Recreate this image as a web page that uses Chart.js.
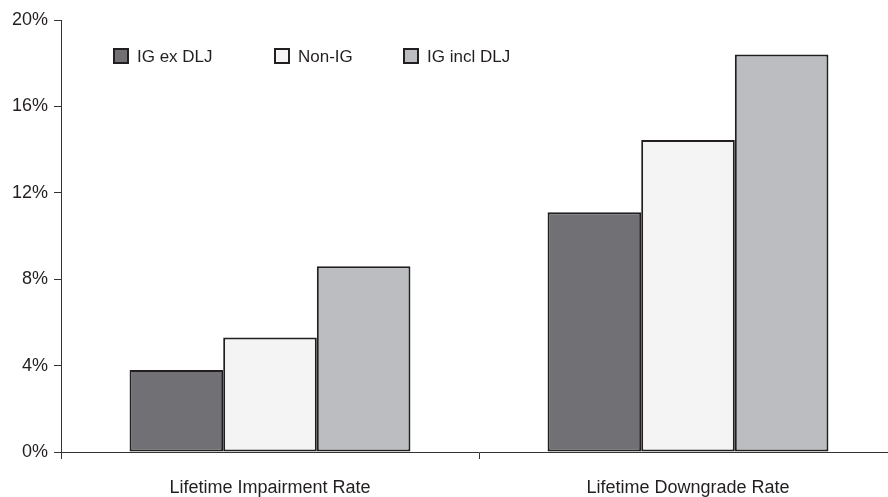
<!DOCTYPE html>
<html>
<head>
<meta charset="utf-8">
<script src="https://cdn.jsdelivr.net/npm/chart.js@4/dist/chart.umd.min.js"></script>
<style>
  html, body { margin: 0; padding: 0; background: #fff; overflow: hidden; }
  #wrap { width: 900px; height: 497px; }
</style>
</head>
<body>
<div id="wrap"><canvas id="c" width="900" height="497"></canvas></div>
<script>
const categories = ['Lifetime Impairment Rate', 'Lifetime Downgrade Rate'];
const seriesNames = ['IG ex DLJ', 'Non-IG', 'IG incl DLJ'];
const igExDlj = [3.8, 11.1];
const nonIg = [5.3, 14.45];
const igInclDlj = [8.6, 18.4];
const yTicks = [0, 4, 8, 12, 16, 20];

const FONT = '"Liberation Sans", Arial, sans-serif';
const INK = '#231f20';
const fills = ['#717175', '#f4f4f4', '#bcbdc1'];

// Legend row drawn inside the plot area, top-left
const insideLegend = {
  id: 'insideLegend',
  afterDraw(chart, args, opts) {
    const ctx = chart.ctx;
    const area = chart.chartArea;
    ctx.save();
    ctx.font = opts.fontSize + 'px ' + FONT;
    ctx.textBaseline = 'middle';
    ctx.textAlign = 'left';
    const cy = opts.y;
    chart.data.datasets.forEach((ds, i) => {
      const x = area.left + opts.offsets[i];
      ctx.fillStyle = ds.backgroundColor;
      ctx.fillRect(x, cy - 7, 14, 14);
      ctx.strokeStyle = INK;
      ctx.lineWidth = 2;
      ctx.strokeRect(x, cy - 7, 14, 14);
      ctx.fillStyle = INK;
      ctx.fillText(ds.label, x + 23, cy + 1);
    });
    ctx.restore();
  }
};

const values = [igExDlj, nonIg, igInclDlj];

new Chart(document.getElementById('c'), {
  type: 'bar',
  data: {
    labels: categories,
    datasets: seriesNames.map((name, i) => ({
      label: name,
      data: values[i],
      backgroundColor: fills[i],
      borderColor: INK,
      borderWidth: 2,
      borderSkipped: false,
      barPercentage: 1,
      categoryPercentage: 0.672
    }))
  },
  options: {
    responsive: false,
    animation: false,
    devicePixelRatio: 1,
    layout: { padding: { top: 20, right: 3, left: 0, bottom: 0 } },
    plugins: {
      legend: { display: false },
      tooltip: { enabled: false },
      insideLegend: { offsets: [53, 214, 343], y: 56, fontSize: 17 }
    },
    scales: {
      x: {
        grid: { display: true, offset: true, drawOnChartArea: false, tickLength: 7, color: '#333', lineWidth: 1 },
        border: { display: true, color: '#333', width: 1 },
        ticks: { color: INK, font: { family: FONT, size: 18 }, padding: 18, maxRotation: 0 },
        afterFit(scale) { scale.height = 45; }
      },
      y: {
        min: 0,
        max: 20,
        afterBuildTicks(scale) { scale.ticks = yTicks.map(v => ({ value: v })); },
        grid: { display: true, drawOnChartArea: false, tickLength: 7, color: '#333', lineWidth: 1 },
        border: { display: true, color: '#333', width: 1 },
        ticks: {
          color: INK,
          font: { family: FONT, size: 18 },
          padding: 6,
          callback: v => v + '%'
        },
        afterFit(scale) { scale.width = 61; }
      }
    }
  },
  plugins: [insideLegend]
});
</script>
</body>
</html>
